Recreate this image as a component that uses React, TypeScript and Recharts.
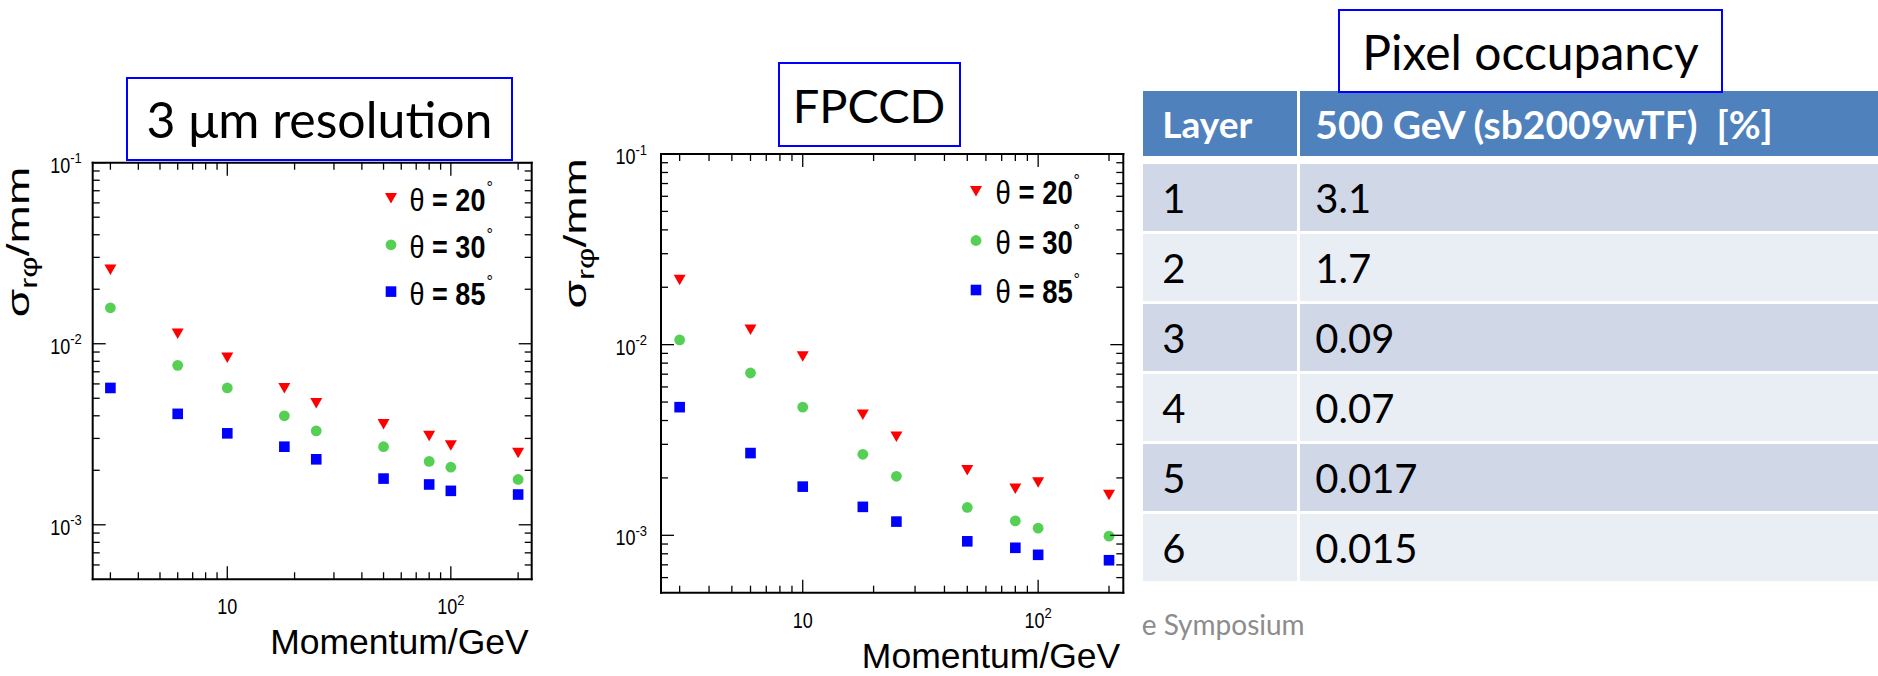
import React from 'react';
import { ScatterChart, Scatter, XAxis, YAxis, Legend } from 'recharts';

// Track momentum points (GeV)
const momentum = [3, 6, 10, 18, 25, 50, 80, 100, 200];

// sigma_r-phi (mm), 3 um point resolution
const res3umTheta20 = [0.0257, 0.0114, 0.0084, 0.0057, 0.0047, 0.0036, 0.0031, 0.00275, 0.0025];
const res3umTheta30 = [0.0158, 0.0076, 0.0057, 0.004, 0.0033, 0.0027, 0.00224, 0.00208, 0.00178];
const res3umTheta85 = [0.0057, 0.0041, 0.0032, 0.0027, 0.0023, 0.0018, 0.00167, 0.00154, 0.00147];

// sigma_r-phi (mm), FPCCD
const fpccdTheta20 = [0.0219, 0.012, 0.0087, 0.0043, 0.0033, 0.0022, 0.00176, 0.0019, 0.00163];
const fpccdTheta30 = [0.0106, 0.0071, 0.0047, 0.00266, 0.00204, 0.0014, 0.00119, 0.00109, 0.00099];
const fpccdTheta85 = [0.0047, 0.0027, 0.0018, 0.00141, 0.00118, 0.00093, 0.00086, 0.00079, 0.00074];

const seriesNames = ['θ = 20', 'θ = 30', 'θ = 85'];

// log axis ticks
const xTicks = [3, 4, 5, 6, 7, 8, 9, 10, 20, 30, 40, 50, 60, 70, 80, 90, 100, 200];
const yTicks = [
  0.0006, 0.0007, 0.0008, 0.0009, 0.001,
  0.002, 0.003, 0.004, 0.005, 0.006, 0.007, 0.008, 0.009, 0.01,
  0.02, 0.03, 0.04, 0.05, 0.06, 0.07, 0.08, 0.09, 0.1,
];
const xDomain = [2.5, 230];
const yDomain = [0.0005, 0.1];

// pixel occupancy table
const layers = ['1', '2', '3', '4', '5', '6'];
const occupancy = ['3.1', '1.7', '0.09', '0.07', '0.017', '0.015'];

const rootFont = '"Liberation Sans", Arial, Helvetica, sans-serif';
const slideFont = 'Lato, "Open Sans", sans-serif';

// the plots were stretched vertically on the slide, so their text is too
const STRETCH = 1.18;

type Marker = 'triangle' | 'circle' | 'square';
const markerStyle: Record<string, { kind: Marker; color: string }> = {
  'θ = 20': { kind: 'triangle', color: '#ff0000' },
  'θ = 30': { kind: 'circle', color: '#55d055' },
  'θ = 85': { kind: 'square', color: '#0000ff' },
};

const MarkerGlyph = ({ kind, cx, cy, color }: { kind: Marker; cx: number; cy: number; color: string }) => {
  if (kind === 'triangle') {
    return <path d={`M${cx - 6},${cy - 5}L${cx + 6},${cy - 5}L${cx},${cy + 5.5}Z`} fill={color} />;
  }
  if (kind === 'circle') return <circle cx={cx} cy={cy} r={5.4} fill={color} />;
  return <rect x={cx - 5.3} y={cy - 5.3} width={10.6} height={10.6} fill={color} />;
};

const isDecade = (v: number) => Math.abs(Math.log10(v) - Math.round(Math.log10(v))) < 1e-6;
const exponent = (v: number) => Math.round(Math.log10(v));

const MAJOR = 13;
const MINOR = 7;
const tickStroke = { stroke: '#000', strokeWidth: 1.3 };

const BottomTick = ({ x, y, payload }: any) => {
  const v = payload.value;
  const major = isDecade(v);
  const e = exponent(v);
  return (
    <g>
      <line x1={x} x2={x} y1={y} y2={y - (major ? MAJOR : MINOR)} {...tickStroke} />
      {major && (
        <g transform={`translate(${x},${y + 35}) scale(1,${STRETCH})`}>
          <text x={0} y={0} textAnchor="middle" fontSize={18} fontFamily={rootFont} fill="#000">
            10
            {e !== 1 && (
              <tspan dy={-8} fontSize={13}>
                {e}
              </tspan>
            )}
          </text>
        </g>
      )}
    </g>
  );
};

const TopTick = ({ x, y, payload }: any) => {
  const major = isDecade(payload.value);
  return <line x1={x} x2={x} y1={y} y2={y + (major ? MAJOR : MINOR)} {...tickStroke} />;
};

const makeLeftTick = (gap: number) => ({ x, y, payload }: any) => {
  const v = payload.value;
  const major = isDecade(v);
  return (
    <g>
      <line x1={x} x2={x + (major ? MAJOR : MINOR)} y1={y} y2={y} {...tickStroke} />
      {major && (
        <g transform={`translate(${x - gap},${y + 10}) scale(1,${STRETCH})`}>
          <text x={0} y={0} textAnchor="end" fontSize={18} fontFamily={rootFont} fill="#000">
            10
            <tspan dy={-8} fontSize={13}>
              {exponent(v)}
            </tspan>
          </text>
        </g>
      )}
    </g>
  );
};

const RightTick = ({ x, y, payload }: any) => {
  const major = isDecade(payload.value);
  return <line x1={x} x2={x - (major ? MAJOR : MINOR)} y1={y} y2={y} {...tickStroke} />;
};

const XTitle = ({ viewBox }: any) => (
  <text
    x={viewBox.x + viewBox.width - 3}
    y={viewBox.y + 75}
    textAnchor="end"
    fontSize={35.5}
    fontFamily={rootFont}
    fill="#000"
  >
    Momentum/GeV
  </text>
);

// rotated title, stretched along its length like the rest of the plot text
const YTitle = ({ viewBox, shift }: any) => {
  const x = viewBox.x + viewBox.width - shift;
  const y = viewBox.y + 4;
  return (
    <g transform={`translate(${x},${y}) rotate(-90) scale(1.44,1)`}>
      <text x={0} y={0} textAnchor="end" fontSize={32} fontFamily={rootFont} fill="#000">
        σ
        <tspan dy={8} fontSize={23}>
          rφ
        </tspan>
        <tspan dy={-8}>/mm</tspan>
      </text>
    </g>
  );
};

type LegendCfg = { left: number; top: number; gap: number; textDx: number; degDx: number; fontSize: number };

const makeLegend = (cfg: LegendCfg) => (props: any) => {
  const items = props.payload ?? [];
  return (
    <svg width={160} height={150} style={{ display: 'block', overflow: 'visible' }}>
      {items.map((item: any, i: number) => {
        const cy = 24 + i * cfg.gap;
        const name = String(item.value);
        const m = markerStyle[name];
        const tx = 12 + cfg.textDx;
        return (
          <g key={name}>
            <MarkerGlyph kind={m.kind} cx={12} cy={cy} color={m.color} />
            <g transform={`translate(${tx},${cy + 13}) scale(1,${STRETCH})`}>
              <text x={0} y={0} fontSize={cfg.fontSize} fontFamily={rootFont} fill="#000">
                <tspan>{name.slice(0, 1)}</tspan>
                <tspan fontWeight="bold">{name.slice(1)}</tspan>
              </text>
            </g>
            <text x={tx + cfg.degDx} y={cy - 5} textAnchor="middle" fontSize={16} fontFamily={rootFont} fill="#000">
              °
            </text>
          </g>
        );
      })}
    </svg>
  );
};

type PlotProps = {
  left: number;
  width: number;
  margin: { top: number; right: number; bottom: number; left: number };
  values: number[][];
  legend: LegendCfg;
  yTitleShift: number;
  yLabelGap: number;
};

const axisLine = { stroke: '#000', strokeWidth: 2, strokeLinecap: 'square' as const };

const ResolutionPlot = ({ left, width, margin, values, legend, yTitleShift, yLabelGap }: PlotProps) => {
  const series = seriesNames.map((name, k) => ({
    name,
    data: momentum.map((p, i) => ({ p, s: values[k][i] })),
  }));
  return (
    <div style={{ position: 'absolute', left, top: 0 }}>
      <ScatterChart width={width} height={676} margin={margin}>
        <XAxis
          xAxisId="b"
          dataKey="p"
          type="number"
          scale="log"
          domain={xDomain}
          allowDataOverflow
          ticks={xTicks}
          interval={0}
          height={1}
          tickSize={0}
          tickMargin={0}
          tick={BottomTick}
          tickLine={false}
          axisLine={axisLine}
          label={<XTitle />}
        />
        <XAxis
          xAxisId="t"
          orientation="top"
          dataKey="p"
          type="number"
          scale="log"
          domain={xDomain}
          allowDataOverflow
          ticks={xTicks}
          interval={0}
          height={1}
          tickSize={0}
          tickMargin={0}
          tick={TopTick}
          tickLine={false}
          axisLine={axisLine}
        />
        <YAxis
          yAxisId="l"
          dataKey="s"
          type="number"
          scale="log"
          domain={yDomain}
          allowDataOverflow
          ticks={yTicks}
          interval={0}
          width={1}
          tickSize={0}
          tickMargin={0}
          tick={makeLeftTick(yLabelGap)}
          tickLine={false}
          axisLine={axisLine}
          label={<YTitle shift={yTitleShift} />}
        />
        <YAxis
          yAxisId="r"
          orientation="right"
          dataKey="s"
          type="number"
          scale="log"
          domain={yDomain}
          allowDataOverflow
          ticks={yTicks}
          interval={0}
          width={1}
          tickSize={0}
          tickMargin={0}
          tick={RightTick}
          tickLine={false}
          axisLine={axisLine}
        />
        {series.map((s) => {
          const m = markerStyle[s.name];
          return (
            <Scatter
              key={s.name}
              name={s.name}
              data={s.data}
              xAxisId="b"
              yAxisId="l"
              fill={m.color}
              isAnimationActive={false}
              shape={(p: any) => <MarkerGlyph kind={m.kind} cx={p.cx} cy={p.cy} color={m.color} />}
            />
          );
        })}
        <Legend
          layout="vertical"
          align="center"
          verticalAlign="middle"
          wrapperStyle={{ left: legend.left, top: legend.top, width: 160, height: 150 }}
          content={makeLegend(legend)}
        />
      </ScatterChart>
    </div>
  );
};

const TitleBox = ({ text, left, top, width, height, fontSize }: any) => (
  <div
    style={{
      position: 'absolute',
      left,
      top,
      width,
      height,
      boxSizing: 'border-box',
      border: '2px solid #0000ff',
      background: '#fff',
      display: 'flex',
      alignItems: 'center',
      justifyContent: 'center',
      fontFamily: slideFont,
      fontSize,
      color: '#000',
      whiteSpace: 'nowrap',
    }}
  >
    {text}
  </div>
);

const tableLeft = 1143.3;
const col1W = 154;
const colGap = 3;
const headerTop = 91;
const headerH = 65;
const bodyTop = 164.3;
const rowH = 67;
const rowGap = 3;

const cell = (left: number, top: number, width: number, height: number, bg: string, pad: number): React.CSSProperties => ({
  position: 'absolute',
  left,
  top,
  width,
  height,
  background: bg,
  display: 'flex',
  alignItems: 'center',
  paddingLeft: pad,
  boxSizing: 'border-box',
  fontFamily: slideFont,
  fontSize: 40,
  whiteSpace: 'pre',
});

const OccupancyTable = () => {
  const col2L = tableLeft + col1W + colGap;
  const col2W = 1878 - col2L + 20;
  const header = { color: '#fff', fontWeight: 700, fontSize: 39 };
  return (
    <>
      <div style={{ ...cell(tableLeft, headerTop, col1W, headerH, '#4f81bd', 19), ...header, fontSize: 37 }}>Layer</div>
      <div style={{ ...cell(col2L, headerTop, col2W, headerH, '#4f81bd', 15), ...header }}>
        {'500 GeV (sb2009wTF)  [%]'}
      </div>
      {layers.map((layer, i) => {
        const top = bodyTop + i * (rowH + rowGap);
        const bg = i % 2 === 0 ? '#d0d8e8' : '#e9edf4';
        return (
          <React.Fragment key={layer}>
            <div style={{ ...cell(tableLeft, top, col1W, rowH, bg, 19), color: '#000' }}>{layer}</div>
            <div style={{ ...cell(col2L, top, col2W, rowH, bg, 15), color: '#000' }}>{occupancy[i]}</div>
          </React.Fragment>
        );
      })}
    </>
  );
};

export default function App() {
  return (
    <div
      style={{
        position: 'absolute',
        left: 0,
        top: 0,
        width: 1878,
        height: 676,
        overflow: 'hidden',
        background: '#fff',
      }}
    >
      <svg width={1878} height={676} style={{ position: 'absolute', left: 0, top: 0 }}>
        <text x={1141.7} y={635} fontFamily={slideFont} fontSize={28} fill="#8c8c8c">
          e Symposium
        </text>
      </svg>
      <ResolutionPlot
        left={0}
        width={560}
        margin={{ top: 161.7, right: 27.3, bottom: 95.7, left: 91.7 }}
        values={[res3umTheta20, res3umTheta30, res3umTheta85]}
        legend={{ left: 379.4, top: 174.4, gap: 46.8, textDx: 18.6, degDx: 80, fontSize: 27 }}
        yTitleShift={64}
        yLabelGap={11}
      />
      <ResolutionPlot
        left={540}
        width={600}
        margin={{ top: 153, right: 15.7, bottom: 82.3, left: 120 }}
        values={[fpccdTheta20, fpccdTheta30, fpccdTheta85]}
        legend={{ left: 424.2, top: 167, gap: 49.5, textDx: 19.6, degDx: 81, fontSize: 27.5 }}
        yTitleShift={75}
        yLabelGap={14}
      />
      <TitleBox text="3 μm resolution" left={126} top={77} width={387} height={84} fontSize={50} />
      <TitleBox text="FPCCD" left={777.5} top={62} width={183} height={85} fontSize={47} />
      <OccupancyTable />
      <TitleBox text="Pixel occupancy" left={1338} top={9} width={385} height={84} fontSize={48} />
    </div>
  );
}
